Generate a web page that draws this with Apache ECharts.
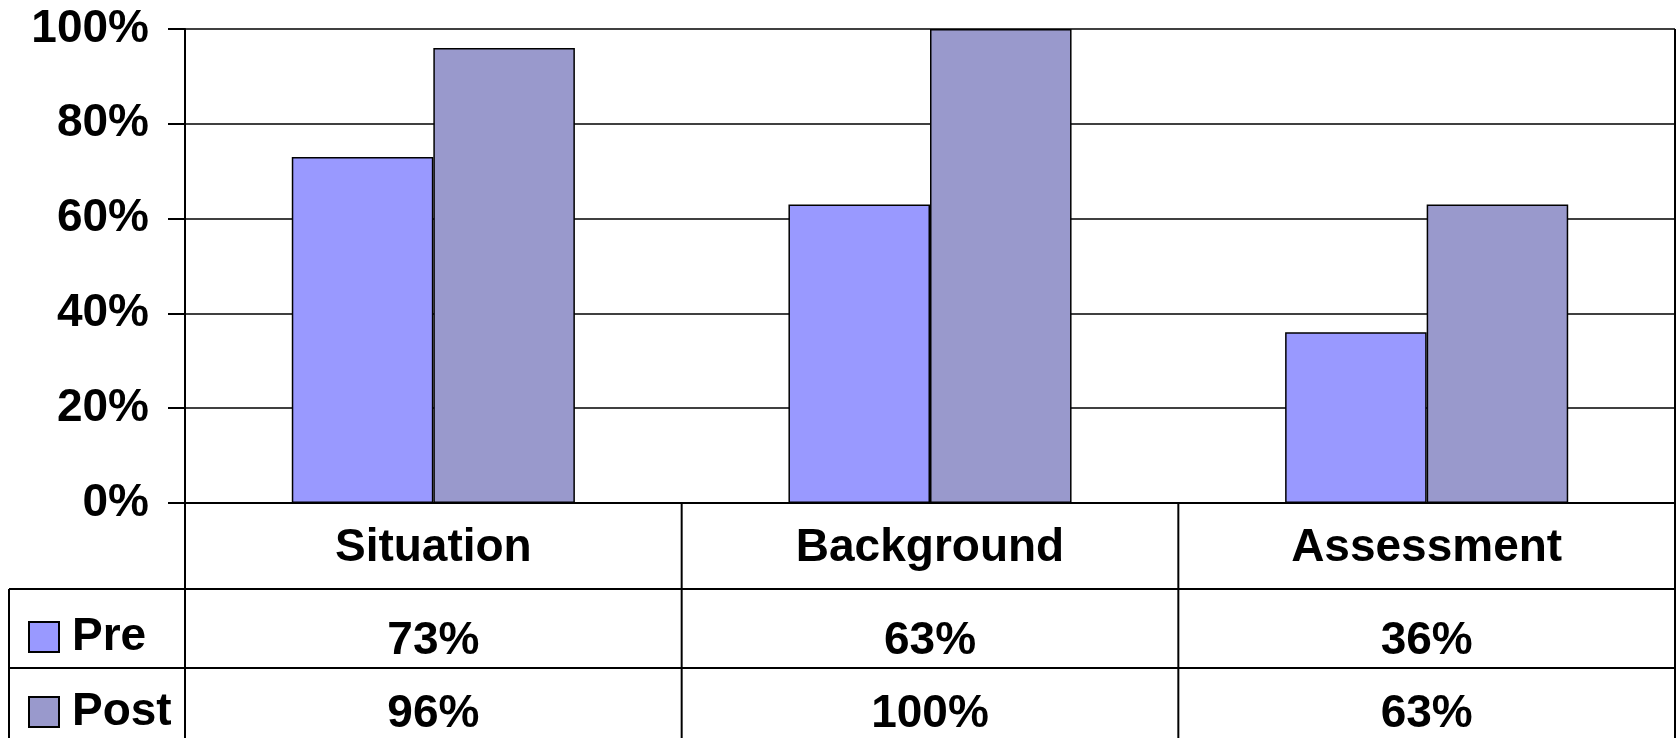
<!DOCTYPE html>
<html><head><meta charset="utf-8">
<script src="https://cdn.jsdelivr.net/npm/echarts@6/dist/echarts.min.js"></script>
<style>html,body{margin:0;padding:0;background:#fff}#c{width:1679px;height:738px}</style>
</head><body><div id="c"></div>
<script>
const categories = ['Situation', 'Background', 'Assessment'];
const preValues = [73, 63, 36];
const postValues = [96, 100, 63];
const yTicks = [0, 20, 40, 60, 80, 100];
const seriesNames = ['Pre', 'Post'];

const L = 185, R = 1675, T = 29, B = 503;
const rowCat = 589, rowPre = 668, bottom = 738, tableLeft = 9;
const font = 'Liberation Sans, Arial, sans-serif';
const fs = 46;

const chart = echarts.init(document.getElementById('c'));
const colW = (R - L) / categories.length;
const gfx = [];
const line = (x1, y1, x2, y2) => gfx.push({type: 'line', shape: {x1, y1, x2, y2}, style: {stroke: '#000', lineWidth: 2}, z: 10});
line(tableLeft, rowCat, R, rowCat);
line(tableLeft, rowPre, R, rowPre);
line(tableLeft, rowCat, tableLeft, bottom);
line(L, B, L, bottom);
for (let i = 1; i < categories.length; i++) line(L + colW * i, B, L + colW * i, bottom);
line(R, T, R, bottom);

const labelBase = {fontFamily: font, fontWeight: 'bold', fontSize: fs, color: '#000', verticalAlign: 'middle'};
const legendBase = {orient: 'vertical', left: 23, itemWidth: 30, itemHeight: 30, icon: 'rect',
  textStyle: {fontFamily: font, fontWeight: 'bold', fontSize: fs, color: '#000', padding: [0, 0, 8, 8]}};
chart.setOption({
  animation: false,
  backgroundColor: '#fff',
  grid: {left: L, right: 1679 - R, top: T, bottom: 738 - B},
  legend: [
    Object.assign({top: 609, data: [seriesNames[0]]}, legendBase),
    Object.assign({top: 684, data: [seriesNames[1]]}, legendBase)
  ],
  xAxis: [
    {type: 'category', data: categories, position: 'bottom',
     axisLine: {lineStyle: {color: '#000', width: 2}}, axisTick: {show: false},
     axisLabel: Object.assign({margin: 45}, labelBase)},
    {type: 'category', data: categories, position: 'bottom', offset: 92,
     axisLine: {show: false}, axisTick: {show: false},
     axisLabel: Object.assign({margin: 46, formatter: (v, i) => preValues[i] + '%'}, labelBase)},
    {type: 'category', data: categories, position: 'bottom', offset: 170,
     axisLine: {show: false}, axisTick: {show: false},
     axisLabel: Object.assign({margin: 41, formatter: (v, i) => postValues[i] + '%'}, labelBase)}
  ],
  yAxis: {
    type: 'value', min: yTicks[0], max: yTicks[yTicks.length - 1], interval: yTicks[1] - yTicks[0],
    axisLine: {show: true, lineStyle: {color: '#000', width: 2}},
    axisTick: {show: true, length: 17, lineStyle: {color: '#000', width: 2}},
    axisLabel: {formatter: '{value}%', fontFamily: font, fontWeight: 'bold', fontSize: fs, color: '#000', margin: 36},
    splitLine: {lineStyle: {color: '#000', width: 1.5}}
  },
  series: [
    {name: seriesNames[0], type: 'bar', data: preValues, barGap: '0%', barCategoryGap: '43%',
     itemStyle: {color: '#9999FF', borderColor: '#000', borderWidth: 1.5}},
    {name: seriesNames[1], type: 'bar', data: postValues,
     itemStyle: {color: '#9999CC', borderColor: '#000', borderWidth: 1.5}}
  ],
  graphic: gfx
});
</script></body></html>
